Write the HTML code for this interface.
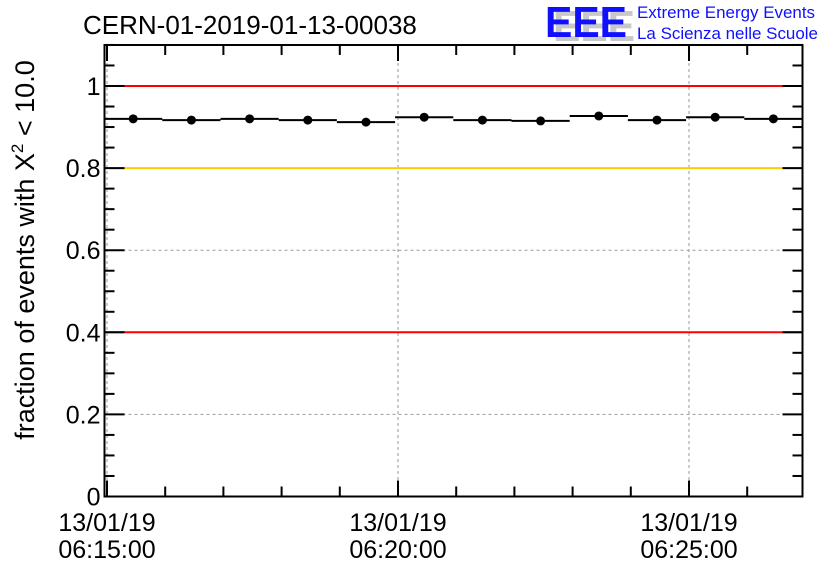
<!DOCTYPE html>
<html><head><meta charset="utf-8"><style>
html,body{margin:0;padding:0;background:#fff;}
svg{display:block;font-family:"Liberation Sans",sans-serif;}
</style></head><body>
<svg id="chart" width="836" height="572">
<text x="83" y="34" font-size="26" fill="#000">CERN-01-2019-01-13-00038</text>
<g>
<text x="553" y="41" font-size="44" font-weight="bold" fill="#c8c8c8" textLength="82" lengthAdjust="spacingAndGlyphs">EEE</text>
<text x="545" y="37" font-size="44" font-weight="bold" fill="#1010ff" textLength="82" lengthAdjust="spacingAndGlyphs">EEE</text>
<text x="637" y="18" font-size="17" fill="#1010ff" textLength="178" lengthAdjust="spacingAndGlyphs">Extreme Energy Events</text>
<text x="637" y="39" font-size="17" fill="#1010ff" textLength="181" lengthAdjust="spacingAndGlyphs">La Scienza nelle Scuole</text>
</g>
<text transform="translate(34,250) rotate(-90)" text-anchor="middle" font-size="27" fill="#000">fraction of events with X<tspan dy="-11" font-size="17">2</tspan><tspan dy="11"> &lt; 10.0</tspan></text>
<g id="plot"></g>
</svg>
<script>
const binStartsMin = [-0.05,0.95,1.95,2.95,3.95,4.95,5.95,6.95,7.95,8.95,9.95,10.95];
const values = [0.920,0.917,0.920,0.917,0.912,0.924,0.917,0.915,0.927,0.917,0.924,0.920];
const yTicks = [0,0.2,0.4,0.6,0.8,1];
const yTickLabels = ["0","0.2","0.4","0.6","0.8","1"];
const xTicksMin = [0,5,10];
const xTickLabels = [["13/01/19","06:15:00"],["13/01/19","06:20:00"],["13/01/19","06:25:00"]];
const refLines = [1.0,0.8,0.4];
const refColors = ["#ff0000","#ffcc00","#ff0000"];
const binWidthMin = 1;

const L=104.5,R=802.5,T=45,B=496.5;
const X=m=>107+m*58.2;
const Y=v=>B-v*410.5;
const ns="http://www.w3.org/2000/svg";
const g=document.getElementById('plot');
function mk(tag,attrs,name){const e=document.createElementNS(ns,tag);for(const k in attrs)e.setAttribute(k,attrs[k]);


g.appendChild(e);return e;}
xTicksMin.forEach(m=>{mk('line',{x1:X(m),x2:X(m),y1:T,y2:B,stroke:'#999','stroke-dasharray':'3,3','stroke-width':1},'x-grid-line');});
yTicks.forEach(v=>{mk('line',{x1:L,x2:R,y1:Y(v),y2:Y(v),stroke:'#999','stroke-dasharray':'3,3','stroke-width':1},'y-grid-line');});
refLines.forEach((v,i)=>{mk('line',{x1:L,x2:R,y1:Y(v),y2:Y(v),stroke:refColors[i],'stroke-width':2},'reference-line');});
mk('rect',{x:L,y:T,width:R-L,height:B-T,fill:'none',stroke:'#000','stroke-width':2},'plot-frame');
for(let i=0;i<=22;i++){const v=i*0.05;const major=(i%4===0);const len=major?20:10;const y=Y(v);
mk('line',{x1:L,x2:L+len,y1:y,y2:y,stroke:'#000','stroke-width':2},'y-tick-left');
mk('line',{x1:R,x2:R-len,y1:y,y2:y,stroke:'#000','stroke-width':2},'y-tick-right');}
yTicks.forEach((v,i)=>{const t=mk('text',{x:L-4,y:Y(v)+9,'text-anchor':'end','font-size':25,fill:'#000'},'y-tick-label');t.textContent=yTickLabels[i];});
for(let m=0;m<=11;m++){const x=X(m);const major=(m%5===0);const len=major?16:10;
mk('line',{x1:x,x2:x,y1:B,y2:B-len,stroke:'#000','stroke-width':2},'x-tick-bottom');
mk('line',{x1:x,x2:x,y1:T,y2:T+len,stroke:'#000','stroke-width':2},'x-tick-top');}
xTicksMin.forEach((m,i)=>{
const t1=mk('text',{x:X(m),y:531,'text-anchor':'middle','font-size':25,fill:'#000'},'x-tick-label-date');t1.textContent=xTickLabels[i][0];
const t2=mk('text',{x:X(m),y:558,'text-anchor':'middle','font-size':25,fill:'#000'},'x-tick-label-time');t2.textContent=xTickLabels[i][1];});
values.forEach((v,i)=>{const x0=X(binStartsMin[i]),x1=X(binStartsMin[i]+binWidthMin);
mk('line',{x1:x0,x2:x1,y1:Y(v),y2:Y(v),stroke:'#000','stroke-width':2},'data-bin');
mk('circle',{cx:(x0+x1)/2,cy:Y(v),r:4.5,fill:'#000'},'data-point');});
</script>
</body></html>
